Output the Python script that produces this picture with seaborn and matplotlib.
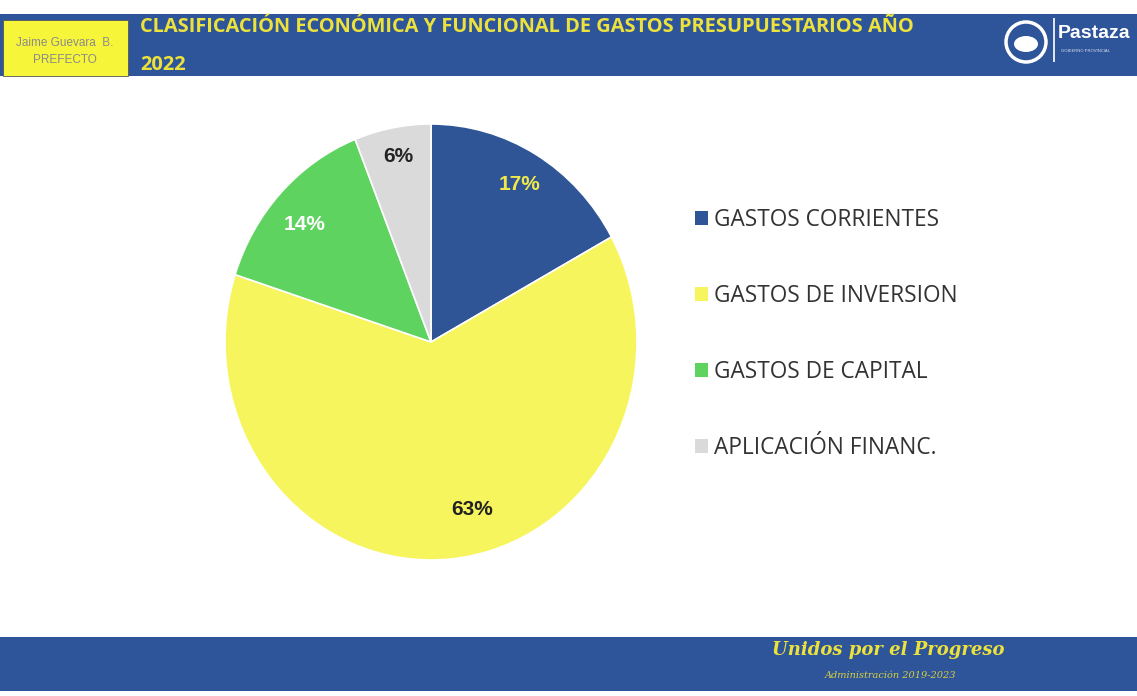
import matplotlib
matplotlib.use("Agg")
import matplotlib.pyplot as plt
import seaborn as sns
from matplotlib.patches import Rectangle, Ellipse

sns.set_theme(style="white")
plt.rcParams['font.family'] = ['Open Sans', 'DejaVu Sans']

categories = ["GASTOS CORRIENTES", "GASTOS DE INVERSION", "GASTOS DE CAPITAL", "APLICACIÓN FINANC."]
values = [17, 63, 14, 6]
pct_labels = ["17%", "63%", "14%", "6%"]
colors = ["#2F5597", "#F7F55E", "#5FD35F", "#DADADA"]
label_colors = ["#F2E84A", "#222222", "#FFFFFF", "#222222"]

title_line1 = "CLASIFICACIÓN ECONÓMICA Y FUNCIONAL DE GASTOS PRESUPUESTARIOS AÑO"
title_line2 = "2022"

W, H = 1137, 696
fig = plt.figure(figsize=(W / 100, H / 100), dpi=100)
fig.patch.set_facecolor("white")

def fx(x):
    return x / W

def fy(y):
    return 1 - y / H

# header bar
fig.patches.append(Rectangle((fx(0), fy(76)), 1, (76 - 14) / H, transform=fig.transFigure,
                             facecolor="#2E5599", edgecolor="none", zorder=0))
fig.patches.append(Rectangle((fx(3), fy(76)), 125 / W, (76 - 20) / H, transform=fig.transFigure,
                             facecolor="#F7F53A", edgecolor="#555555", linewidth=0.6, zorder=1))
fig.text(fx(65), fy(43), "Jaime Guevara  B.", ha="center", va="center", fontsize=8.5,
         color="#8A8A8A", family="Liberation Sans")
fig.text(fx(65), fy(60), "PREFECTO", ha="center", va="center", fontsize=8.5,
         color="#8A8A8A", family="Liberation Sans")
fig.text(fx(140), fy(27), title_line1, ha="left", va="center", fontsize=14.4,
         color="#EDE23C", fontweight="bold")
fig.text(fx(140), fy(65), title_line2, ha="left", va="center", fontsize=14.4,
         color="#EDE23C", fontweight="bold")

# logo
fig.patches.append(Ellipse((fx(1026), fy(42)), 40 / W, 40 / H, transform=fig.transFigure,
                           facecolor="none", edgecolor="white", linewidth=2.5, zorder=2))
fig.patches.append(Ellipse((fx(1026), fy(44)), 24 / W, 16 / H, transform=fig.transFigure,
                           facecolor="white", edgecolor="none", zorder=2))
fig.patches.append(Rectangle((fx(1053), fy(62)), 1.5 / W, 44 / H, transform=fig.transFigure,
                             facecolor="#DDE4F0", edgecolor="none", zorder=2))
fig.text(fx(1058), fy(33), "Pastaza", ha="left", va="center", fontsize=14, color="white",
         fontweight="bold", family="Liberation Sans")
fig.text(fx(1061), fy(51), "GOBIERNO PROVINCIAL", ha="left", va="center", fontsize=3,
         color="#DDE4F0", family="Liberation Sans")

# footer bar
fig.patches.append(Rectangle((fx(0), fy(691)), 1, (691 - 637) / H, transform=fig.transFigure,
                             facecolor="#2E5599", edgecolor="none", zorder=0))
fig.text(fx(888), fy(650), "Unidos por el Progreso", ha="center", va="center", fontsize=13,
         color="#EDE23C", fontweight="bold", style="italic", family="DejaVu Serif")
fig.text(fx(891), fy(676), "Administración 2019-2023", ha="center", va="center", fontsize=7,
         color="#D8D040", style="italic", family="DejaVu Serif")

# pie (slightly elliptical as in the reference)
RX, RY = 206, 218
ax = fig.add_axes([fx(431 - RX), fy(342 + RY), 2 * RX / W, 2 * RY / H])
wedges, texts, autotexts = ax.pie(values, colors=colors, startangle=90, counterclock=False,
                                  autopct="%1.0f%%", pctdistance=0.84,
                                  wedgeprops=dict(edgecolor="white", linewidth=1.2))
nudges = [(0.0, 0.0), (0.12, 0.07), (0.0, -0.035), (0.0, 0.028)]
for t, lbl, c, (dx, dy) in zip(autotexts, pct_labels, label_colors, nudges):
    t.set_text(lbl)
    t.set_color(c)
    t.set_fontsize(15)
    t.set_fontweight("bold")
    t.set_family("Liberation Sans")
    x0, y0 = t.get_position()
    t.set_position((x0 + dx, y0 + dy))
ax.set_aspect("auto")
ax.set_xlim(-1, 1)
ax.set_ylim(-1, 1)
ax.axis("off")

leg = fig.legend(wedges, categories, loc="upper left", bbox_to_anchor=(fx(686), fy(199)),
                 frameon=False, fontsize=16.3, labelspacing=2.3, handlelength=0.55,
                 handleheight=0.55, handletextpad=0.3, borderaxespad=0)
for t in leg.get_texts():
    t.set_color("#333333")
for h in leg.legend_handles:
    h.set_edgecolor("none")

fig.savefig("out.png", dpi=100)
